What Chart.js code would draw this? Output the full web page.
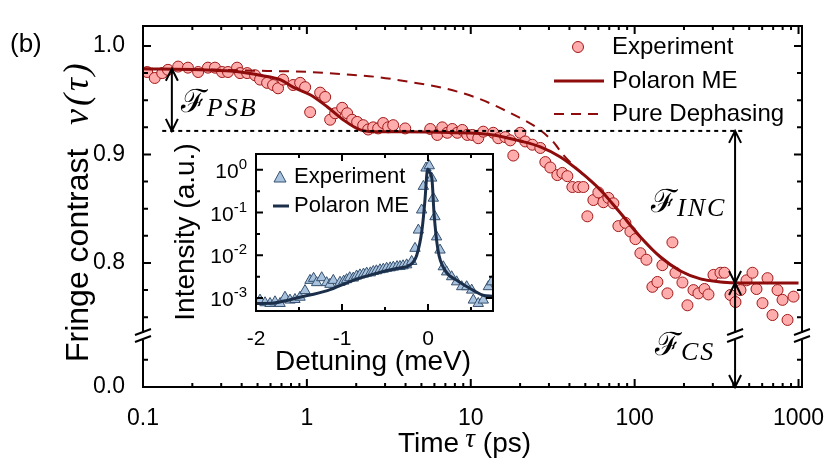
<!DOCTYPE html>
<html>
<head>
<meta charset="utf-8">
<script src="https://cdn.jsdelivr.net/npm/chart.js@4.4.0/dist/chart.umd.min.js"></script>
<style>
  html, body { margin: 0; padding: 0; background: #fff; }
  #wrap { position: relative; width: 825px; height: 474px; overflow: hidden; }
  #main { position: absolute; left: 0; top: 0; }
  #inset { position: absolute; left: 150px; top: 125px; }
</style>
</head>
<body>
<div id="wrap">
  <canvas id="main" width="825" height="474"></canvas>
  <canvas id="inset" width="360" height="255"></canvas>
</div>
<script>
// ---- main panel: fringe contrast vs delay ----
var expTau = [0.106, 0.118, 0.131, 0.142, 0.164, 0.188, 0.217, 0.249, 0.275, 0.304, 0.330, 0.375, 0.391, 0.432, 0.483,
  0.518, 0.572, 0.622, 0.667, 0.716, 0.824, 0.910, 0.976, 1.047, 1.205, 1.293, 1.387, 1.488, 1.642, 1.761,
  1.890, 2.027, 2.206, 2.366, 2.539, 2.723, 2.922, 3.135, 3.363, 3.981, 5.658, 6.244, 6.699, 7.187, 7.710,
  8.273, 8.875, 9.52, 10.21, 11.11, 11.92, 13.72, 14.72, 16.24, 17.43, 18.18, 20.06, 21.52, 23.75, 26.57,
  28.51, 30.59, 33.75, 36.21, 38.85, 41.68, 45.35, 48.64, 51.46, 55.99, 60.06, 64.45, 69.14, 74.18, 79.59,
  87.81, 94.19, 101.1, 108.4, 118.0, 128.3, 137.7, 147.7, 158.5, 170.0, 177.4, 195.7, 210.0, 228.5, 245.1,
  266.7, 282.1, 302.7, 334.0, 353.3, 384.3, 412.4, 442.4, 481.4, 523.7, 554.0, 602.8, 646.7, 693.7, 744.4,
  798.7, 856.9, 932.2];
var expV = [0.976, 0.9705, 0.975, 0.978, 0.981, 0.980, 0.976, 0.980, 0.980, 0.976, 0.976, 0.980, 0.975, 0.975, 0.973,
  0.969, 0.966, 0.964, 0.961, 0.969, 0.964, 0.966, 0.962, 0.939, 0.957, 0.953, 0.932, 0.938, 0.943, 0.938,
  0.932, 0.930, 0.927, 0.923, 0.925, 0.924, 0.929, 0.925, 0.927, 0.924, 0.9235, 0.918, 0.925, 0.920, 0.9235,
  0.920, 0.9226, 0.918, 0.918, 0.915, 0.921, 0.920, 0.915, 0.916, 0.913, 0.899, 0.920, 0.912, 0.909, 0.906,
  0.893, 0.888, 0.881, 0.883, 0.880, 0.870, 0.870, 0.870, 0.843, 0.858, 0.865, 0.856, 0.860, 0.855, 0.834,
  0.837, 0.829, 0.822, 0.809, 0.803, 0.778, 0.7825, 0.798, 0.772, 0.819, 0.791, 0.782, 0.761, 0.775, 0.772,
  0.776, 0.771, 0.789, 0.791, 0.791, 0.7705, 0.764, 0.775, 0.784, 0.791, 0.776, 0.763, 0.786, 0.752, 0.775,
  0.766, 0.7475, 0.769];

var meTau = [0.1, 0.223, 0.391, 0.518, 0.687, 0.824, 1.047, 1.33, 1.665, 2.114, 2.539, 3.712, 7.497, 13.72, 20.06,
  26.57, 35.21, 46.64, 61.79, 81.85, 108.4, 143.7, 190.3, 252.1, 334.0, 442.4, 1000];
var meV = [0.979, 0.978, 0.976, 0.973, 0.969, 0.962, 0.955, 0.944, 0.932, 0.9226, 0.921, 0.921, 0.9203, 0.918, 0.9124,
  0.907, 0.8977, 0.8839, 0.8673, 0.846, 0.824, 0.8055, 0.7926, 0.7853, 0.7825, 0.7816, 0.7816];

var pdTau = [0.1, 0.223, 0.572, 1.047, 1.665, 2.685, 4.27, 6.793, 10.96, 17.43, 25.47, 31.9, 36.72, 46.64, 61.79,
  81.85, 108.4, 143.7, 190.3, 252.1, 334.0, 442.4, 1000];
var pdV = [0.979, 0.9784, 0.977, 0.976, 0.974, 0.9714, 0.9668, 0.9613, 0.952, 0.9382, 0.9244, 0.9115, 0.8995, 0.8839, 0.8673,
  0.846, 0.824, 0.8055, 0.7926, 0.7853, 0.7825, 0.7816, 0.7816];

var xTickVals = [0.1, 1, 10, 100, 1000];
var yTickVals = [0.8, 0.9, 1.0];

// levels marked with arrows
var levelTop = 0.979, levelPSB = 0.9217, levelCS = 0.7816;
var tauPSB = 0.15, tauINC = 410;
var dotFrom = 0.131, dotTo = 455;

// ---- inset: emission spectrum ----
var insDet = [-1.953, -1.895, -1.837, -1.779, -1.72, -1.663, -1.605, -1.547, -1.488, -1.43, -1.372, -1.33, -1.295, -1.236,
  -1.178, -1.14, -1.101, -1.023, -0.98, -0.946, -0.91, -0.868, -0.83, -0.791, -0.75, -0.713, -0.67, -0.636, -0.6,
  -0.558, -0.52, -0.481, -0.44, -0.403, -0.36, -0.326, -0.29, -0.248, -0.19, -0.151, -0.112, -0.074, -0.054,
  -0.023, 0.015, 0.043, 0.062, 0.081, 0.1, 0.14, 0.178, 0.217, 0.275, 0.333, 0.392, 0.45, 0.508, 0.527, 0.585,
  0.643, 0.702, 0.74];
var insI = [9.0e-4, 7.8e-4, 7.5e-4, 8.2e-4, 7.5e-4, 1.05e-3, 9.0e-4, 9.3e-4, 1.05e-3, 1.5e-3, 2.6e-3, 2.9e-3, 2.3e-3, 3.0e-3,
  2.3e-3, 2.1e-3, 2.6e-3, 2.35e-3, 2.5e-3, 2.7e-3, 3.0e-3, 2.95e-3, 3.3e-3, 3.5e-3, 3.65e-3, 3.85e-3, 3.9e-3, 4.2e-3, 4.35e-3,
  4.6e-3, 4.75e-3, 5.0e-3, 5.1e-3, 5.3e-3, 5.45e-3, 5.5e-3, 5.7e-3, 6.0e-3, 7.2e-3, 0.0146, 0.039, 0.115, 0.41,
  1.1, 1.24, 0.64, 0.217, 0.08, 0.027, 0.0133, 5.4e-3, 4.1e-3, 3.16e-3, 2.4e-3, 1.85e-3, 1.85e-3, 1.54e-3, 9.0e-4, 7.5e-4,
  9.0e-4, 1.85e-3, 2.4e-3];
var fitDet = [-1.99, -1.8, -1.49, -1.17, -0.87, -0.56, -0.33, -0.21, -0.13, -0.07, -0.035, -0.012, 0.0, 0.015, 0.047,
  0.07, 0.116, 0.198, 0.337, 0.523, 0.64, 0.756];
var fitI = [7.5e-4, 7.7e-4, 1.05e-3, 1.5e-3, 2.6e-3, 4.0e-3, 5.1e-3, 5.9e-3, 1.02e-2, 0.039, 0.198, 0.85, 1.05, 0.9, 0.58,
  0.098, 0.0133, 4.5e-3, 2.6e-3, 1.54e-3, 1.17e-3, 1.11e-3];
var insXTicks = [-2, -1, 0];
var insYTicks = [1e-3, 1e-2, 1e-1, 1];

var SANS = '"Liberation Sans", Arial, sans-serif';
var SERIF = '"Liberation Serif", "Times New Roman", serif';
var RED = '#8e0c0c';
var Y0 = 0.6857;      // axis bottom, labelled 0.0 (broken axis)
var YBREAK = 0.7327;  // where the axis break marks sit

function pairs(xs, ys) {
  return xs.map(function (x, i) { return { x: x, y: ys[i] }; });
}

function sub(ctx, big, bigFont, small, smallFont, x, y, dy) {
  ctx.font = bigFont;
  ctx.fillText(big, x, y);
  var w = ctx.measureText(big).width;
  ctx.font = smallFont;
  ctx.letterSpacing = '2px';
  ctx.fillText(small, x + w, y + dy);
  ctx.letterSpacing = '0px';
}

function arrow(ctx, x, yTop, yBot, headTop, headBot) {
  ctx.beginPath();
  ctx.moveTo(x, yTop);
  ctx.lineTo(x, yBot);
  if (headTop) { ctx.moveTo(x - 6, yTop + 12); ctx.lineTo(x, yTop); ctx.lineTo(x + 6, yTop + 12); }
  if (headBot) { ctx.moveTo(x - 6, yBot - 12); ctx.lineTo(x, yBot); ctx.lineTo(x + 6, yBot - 12); }
  ctx.stroke();
}

function breakMark(ctx, x, y) {
  ctx.fillStyle = '#fff';
  ctx.fillRect(x - 3, y - 3, 6, 7);
  ctx.beginPath();
  ctx.moveTo(x - 8, y - 1); ctx.lineTo(x + 8, y - 7);
  ctx.moveTo(x - 8, y + 6); ctx.lineTo(x + 8, y);
  ctx.stroke();
}

var mainDeco = {
  id: 'mainDeco',
  afterDraw: function (chart) {
    var ctx = chart.ctx, a = chart.chartArea, xs = chart.scales.x, ys = chart.scales.y;
    ctx.save();
    ctx.strokeStyle = '#000';
    ctx.fillStyle = '#000';

    // dotted PSB level
    ctx.lineWidth = 2;
    ctx.setLineDash([4, 4]);
    ctx.beginPath();
    var yP = ys.getPixelForValue(levelPSB);
    ctx.moveTo(xs.getPixelForValue(dotFrom), yP);
    ctx.lineTo(xs.getPixelForValue(dotTo), yP);
    ctx.stroke();
    ctx.setLineDash([]);

    // frame + inward ticks
    ctx.lineWidth = 2;
    ctx.strokeRect(a.left, a.top, a.right - a.left, a.bottom - a.top);
    ctx.beginPath();
    xTickVals.forEach(function (v) {
      var p = xs.getPixelForValue(v);
      ctx.moveTo(p, a.bottom); ctx.lineTo(p, a.bottom - 8);
      ctx.moveTo(p, a.top); ctx.lineTo(p, a.top + 8);
    });
    [0.1, 1, 10, 100].forEach(function (d) {
      for (var m = 2; m <= 9; m++) {
        var p = xs.getPixelForValue(m * d);
        ctx.moveTo(p, a.bottom); ctx.lineTo(p, a.bottom - 4);
        ctx.moveTo(p, a.top); ctx.lineTo(p, a.top + 4);
      }
    });
    yTickVals.concat([Y0]).forEach(function (v) {
      var p = ys.getPixelForValue(v);
      ctx.moveTo(a.left, p); ctx.lineTo(a.left + 8, p);
      ctx.moveTo(a.right, p); ctx.lineTo(a.right - 8, p);
    });
    [1.0, 0.975, 0.95, 0.925, 0.875, 0.85, 0.825, 0.775, 0.75, Y0 + 0.025].forEach(function (v) {
      var p = ys.getPixelForValue(v);
      ctx.moveTo(a.left, p); ctx.lineTo(a.left + 5, p);
      ctx.moveTo(a.right, p); ctx.lineTo(a.right - 5, p);
    });
    ctx.stroke();

    // arrows
    var xPSB = xs.getPixelForValue(tauPSB), xINC = xs.getPixelForValue(tauINC);
    var yTop = ys.getPixelForValue(levelTop), yCS = ys.getPixelForValue(levelCS), y0 = ys.getPixelForValue(Y0);
    arrow(ctx, xPSB, yTop, yP, true, true);
    arrow(ctx, xINC, yP, yCS, true, true);
    arrow(ctx, xINC, yCS, y0, true, true);

    // axis breaks
    var yB = ys.getPixelForValue(YBREAK);
    breakMark(ctx, a.left, yB);
    breakMark(ctx, a.right, yB);
    breakMark(ctx, xINC, yB);

    // F labels
    ctx.fillStyle = '#000';
    ctx.textAlign = 'left';
    ctx.textBaseline = 'alphabetic';
    var fFont = '32px "DejaVu Serif", serif', sFont = 'italic 26px ' + SERIF;
    sub(ctx, '\u2131', fFont, 'PSB', sFont, xPSB + 9, 112, 4);
    sub(ctx, '\u2131', fFont, 'INC', sFont, 651, 212, 4);
    sub(ctx, '\u2131', fFont, 'CS', sFont, 655, 355, 5);

    // legend
    ctx.font = '24px ' + SANS;
    ctx.textBaseline = 'middle';
    ctx.fillText('Experiment', 612, 47);
    ctx.fillText('Polaron ME', 612, 81);
    ctx.fillText('Pure Dephasing', 612, 114);
    ctx.beginPath();
    ctx.arc(578, 47, 5.5, 0, Math.PI * 2);
    ctx.fillStyle = '#ffacac'; ctx.fill();
    ctx.strokeStyle = '#a01818'; ctx.lineWidth = 1; ctx.stroke();
    ctx.strokeStyle = RED;
    ctx.lineWidth = 3;
    ctx.beginPath(); ctx.moveTo(554, 81); ctx.lineTo(604, 81); ctx.stroke();
    ctx.lineWidth = 2; ctx.setLineDash([10, 7]);
    ctx.beginPath(); ctx.moveTo(554, 114); ctx.lineTo(604, 114); ctx.stroke();
    ctx.setLineDash([]);

    // panel tag and axis titles
    ctx.fillStyle = '#000';
    ctx.textBaseline = 'alphabetic';
    ctx.font = '26px ' + SANS;
    ctx.fillText('(b)', 10, 52);

    ctx.font = '28px ' + SANS;
    ctx.fillText('Time', 398, 452);
    var w1 = ctx.measureText('Time').width;
    ctx.font = 'italic 27px ' + SERIF;
    ctx.fillText('\u03c4', 398 + w1 + 6, 447);
    var w2 = ctx.measureText('\u03c4').width;
    ctx.font = '28px ' + SANS;
    ctx.fillText('(ps)', 398 + w1 + w2 + 14, 452);

    ctx.save();
    ctx.translate(88, 362);
    ctx.rotate(-Math.PI / 2);
    ctx.font = '32px ' + SANS;
    ctx.fillText('Fringe contrast', 0, 0);
    ctx.font = 'italic 36px ' + SERIF;
    ctx.letterSpacing = '3px';
    ctx.fillText('v(\u03c4)', 237, 0);
    ctx.letterSpacing = '0px';
    ctx.restore();

    ctx.restore();
  }
};

new Chart(document.getElementById('main'), {
  type: 'scatter',
  data: {
    datasets: [
      { label: 'Polaron ME', data: pairs(meTau, meV), showLine: true, borderColor: RED, borderWidth: 3,
        pointRadius: 0, cubicInterpolationMode: 'monotone' },
      { label: 'Pure Dephasing', data: pairs(pdTau, pdV), showLine: true, borderColor: RED, borderWidth: 2,
        borderDash: [10, 7], pointRadius: 0, cubicInterpolationMode: 'monotone' },
      { label: 'Experiment', data: pairs(expTau, expV), showLine: false, pointRadius: 5.5,
        pointBackgroundColor: '#ffacac', pointBorderColor: '#a01818', pointBorderWidth: 1 }
    ]
  },
  options: {
    responsive: false,
    animation: false,
    events: [],
    layout: { padding: { left: 0, top: 26, right: 23, bottom: 0 } },
    plugins: { legend: { display: false }, tooltip: { enabled: false } },
    scales: {
      x: {
        type: 'logarithmic', min: 0.1, max: 1050,
        grid: { display: false }, border: { display: false },
        afterBuildTicks: function (s) { s.ticks = xTickVals.map(function (v) { return { value: v }; }); },
        afterFit: function (s) { s.height = 87; s.paddingLeft = 0; s.paddingRight = 0; },
        ticks: { autoSkip: false, maxRotation: 0, padding: 10, color: '#000',
          font: { family: SANS, size: 23 }, callback: function (v) { return String(v); } }
      },
      y: {
        type: 'linear', min: Y0, max: 1.0184,
        grid: { display: false }, border: { display: false },
        afterBuildTicks: function (s) { s.ticks = [Y0].concat(yTickVals).map(function (v) { return { value: v }; }); },
        afterFit: function (s) { s.width = 143; s.paddingTop = 0; s.paddingBottom = 0; },
        ticks: { padding: 10, color: '#000', font: { family: SANS, size: 23 },
          callback: function (v) { return v < 0.7 ? '0.0' : v.toFixed(1); } }
      }
    }
  },
  plugins: [mainDeco]
});

var insetDeco = {
  id: 'insetDeco',
  afterDraw: function (chart) {
    var ctx = chart.ctx, a = chart.chartArea, xs = chart.scales.x, ys = chart.scales.y;
    ctx.save();
    ctx.strokeStyle = '#000';
    ctx.fillStyle = '#000';
    ctx.lineWidth = 2;
    ctx.strokeRect(a.left, a.top, a.right - a.left, a.bottom - a.top);
    ctx.beginPath();
    insXTicks.forEach(function (v) {
      var p = xs.getPixelForValue(v);
      ctx.moveTo(p, a.bottom); ctx.lineTo(p, a.bottom - 7);
      ctx.moveTo(p, a.top); ctx.lineTo(p, a.top + 7);
    });
    [-1.5, -0.5, 0.5].forEach(function (v) {
      var p = xs.getPixelForValue(v);
      ctx.moveTo(p, a.bottom); ctx.lineTo(p, a.bottom - 4);
      ctx.moveTo(p, a.top); ctx.lineTo(p, a.top + 4);
    });
    insYTicks.forEach(function (v) {
      var p = ys.getPixelForValue(v);
      ctx.moveTo(a.left, p); ctx.lineTo(a.left + 7, p);
      ctx.moveTo(a.right, p); ctx.lineTo(a.right - 7, p);
      var q = ys.getPixelForValue(v * Math.sqrt(10));
      if (q > a.top) {
        ctx.moveTo(a.left, q); ctx.lineTo(a.left + 4, q);
        ctx.moveTo(a.right, q); ctx.lineTo(a.right - 4, q);
      }
    });
    ctx.stroke();

    // y tick labels 10^n
    ctx.textBaseline = 'alphabetic';
    insYTicks.forEach(function (v) {
      var p = ys.getPixelForValue(v);
      var e = String(Math.round(Math.log10(v)));
      ctx.font = '15px ' + SANS;
      var we = ctx.measureText(e).width;
      var xr = a.left - 9;
      ctx.textAlign = 'left';
      ctx.fillText(e, xr - we, p - 1);
      ctx.textAlign = 'right';
      ctx.font = '21px ' + SANS;
      ctx.fillText('10', xr - we, p + 8);
    });

    // legend
    ctx.textAlign = 'left';
    ctx.textBaseline = 'middle';
    ctx.font = '22px ' + SANS;
    ctx.fillText('Experiment', 144, 52);
    ctx.fillText('Polaron ME', 144, 81);
    ctx.beginPath();
    ctx.moveTo(130, 46); ctx.lineTo(136, 57); ctx.lineTo(124, 57); ctx.closePath();
    ctx.fillStyle = '#a9c3df'; ctx.fill();
    ctx.strokeStyle = '#34506e'; ctx.lineWidth = 1; ctx.stroke();
    ctx.strokeStyle = '#1b2f4a'; ctx.lineWidth = 3;
    ctx.beginPath(); ctx.moveTo(123, 81); ctx.lineTo(139, 81); ctx.stroke();

    // titles
    ctx.fillStyle = '#000';
    ctx.textAlign = 'center';
    ctx.textBaseline = 'alphabetic';
    ctx.font = '28px ' + SANS;
    ctx.fillText('Detuning (meV)', 223, 245);
    ctx.save();
    ctx.translate(44, 107);
    ctx.rotate(-Math.PI / 2);
    ctx.fillText('Intensity (a.u.)', 0, 0);
    ctx.restore();
    ctx.restore();
  }
};

new Chart(document.getElementById('inset'), {
  type: 'scatter',
  data: {
    datasets: [
      { label: 'Polaron ME', data: pairs(fitDet, fitI), showLine: true, borderColor: '#1b2f4a', borderWidth: 3,
        pointRadius: 0, cubicInterpolationMode: 'monotone' },
      { label: 'Experiment', data: pairs(insDet, insI), showLine: false, pointStyle: 'triangle', pointRadius: 6,
        pointBackgroundColor: '#a9c3df', pointBorderColor: '#34506e', pointBorderWidth: 1 }
    ]
  },
  options: {
    responsive: false,
    animation: false,
    events: [],
    layout: { padding: { left: 0, top: 29, right: 17, bottom: 0 } },
    plugins: { legend: { display: false }, tooltip: { enabled: false } },
    scales: {
      x: {
        type: 'linear', min: -2, max: 0.756,
        grid: { display: false }, border: { display: false },
        afterBuildTicks: function (s) { s.ticks = insXTicks.map(function (v) { return { value: v }; }); },
        afterFit: function (s) { s.height = 69; s.paddingLeft = 0; s.paddingRight = 0; },
        ticks: { padding: 8, color: '#000', font: { family: SANS, size: 21 } }
      },
      y: {
        type: 'logarithmic', min: 5.0e-4, max: 2.34,
        grid: { display: false }, border: { display: false },
        afterFit: function (s) { s.width = 106; s.paddingTop = 0; s.paddingBottom = 0; },
        ticks: { display: false }
      }
    }
  },
  plugins: [insetDeco]
});
</script>
</body>
</html>
